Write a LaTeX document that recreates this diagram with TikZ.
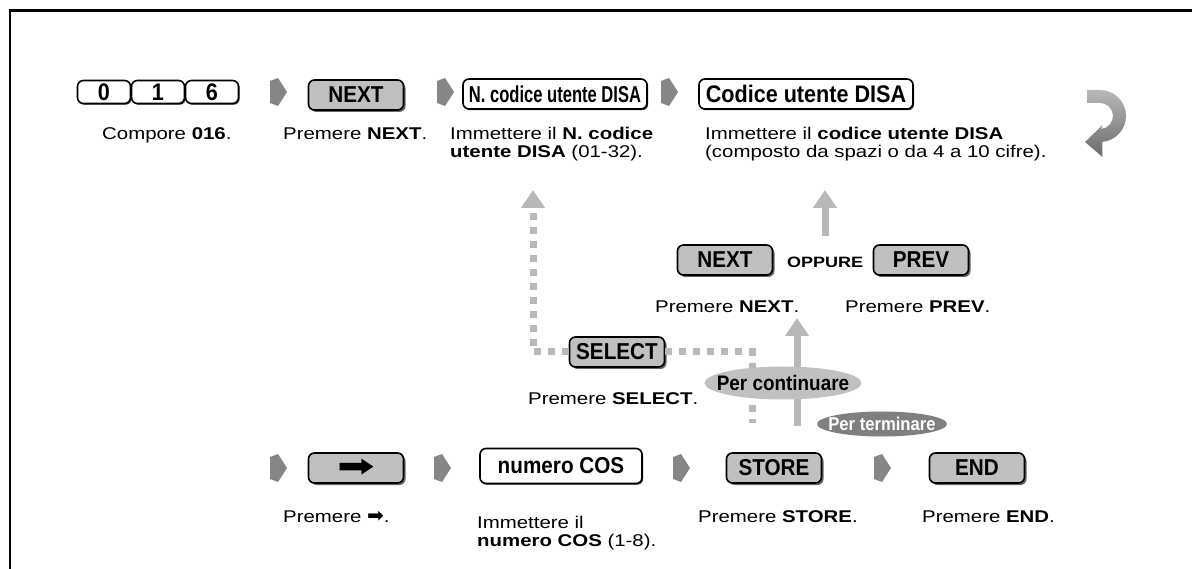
\documentclass[tikz,border=0pt]{standalone}
\usepackage{fontspec}
\setmainfont{Liberation Sans}[FakeStretch=1.2]
\newfontfamily\keyfont{Liberation Sans}[FakeStretch=0.9]
\newfontfamily\narrowkeyfont{Liberation Sans}[FakeStretch=0.72]
\newfontfamily\symfont{DejaVu Sans}
\usetikzlibrary{shapes.geometric}
\usetikzlibrary{arrows.meta}
\usetikzlibrary{shadows}

\definecolor{keygray}{HTML}{C0C0C0}
\definecolor{flowgray}{HTML}{B8B8B8}
\definecolor{stepgray}{HTML}{868686}
\definecolor{endgray}{HTML}{7F7F7F}

\tikzset{
  keybase/.style={draw,line width=1.6pt,rounded corners=6pt,inner sep=0pt,
    minimum width=95pt,minimum height=30pt,
    font=\keyfont\bfseries\fontsize{23}{23}\selectfont},
  graykey/.style={keybase,fill=keygray,
    drop shadow={shadow xshift=2pt,shadow yshift=-2pt,fill=black!60,opacity=1}},
  whitekey/.style={keybase,fill=white,
    drop shadow={shadow xshift=1.2pt,shadow yshift=-1.2pt,fill=black!80,opacity=1}},
  note/.style={anchor=base west,inner sep=0pt,align=left,
    font=\fontsize{17}{18}\selectfont},
  flow/.style={draw=flowgray,line width=7pt,-{Triangle[width=23pt,length=18pt]}},
  dashflow/.style={flow,dash pattern=on 7pt off 7pt},
  bubble/.style={ellipse,inner ysep=0pt},
  pics/nextmark/.style={code={
    \fill[stepgray] (0,-11) -- (8,-14) -- (17,0) -- (8,14) -- (0,11) -- cycle;}}
}

\begin{document}
\begin{tikzpicture}[x=1pt,y=-1pt]
\useasboundingbox (0,0) rectangle (1192,569);
\draw[line width=2.5pt] (10,569) |- (1192,10.5);

% first row
\node[whitekey,minimum width=53pt,minimum height=23pt,font=\keyfont\bfseries\fontsize{24}{24}\selectfont] (k0) at (104,92) {0};
\node[whitekey,minimum width=53pt,minimum height=23pt,font=\keyfont\bfseries\fontsize{24}{24}\selectfont] (k1) at (158,92) {1};
\node[whitekey,minimum width=53pt,minimum height=23pt,font=\keyfont\bfseries\fontsize{24}{24}\selectfont] (k6) at (212,92) {6};
\pic at (270,92) {nextmark};
\node[graykey] (next) at (356,95) {NEXT};
\pic at (437,92) {nextmark};
\node[whitekey,minimum width=184pt,font=\narrowkeyfont\bfseries\fontsize{23}{23}\selectfont] (ncode) at (555,94) {N. codice utente DISA};
\pic at (661,92) {nextmark};
\node[whitekey,minimum width=214pt,font=\keyfont\bfseries\fontsize{24}{24}\selectfont] (dcode) at (806,94) {Codice utente DISA};

\node[note] (t016) at (102,140) {Compore \textbf{016}.};
\node[note] (tnext) at (283,140) {Premere \textbf{NEXT}.};
\node[note] (tncode) at (450,158) {Immettere il \textbf{N. codice}\\\textbf{utente DISA} (01-32).};
\node[note] (tdcode) at (705,158) {Immettere il \textbf{codice utente DISA}\\(composto da spazi o da 4 a 10 cifre).};

% turn arrow
\shade[top color=black!28,bottom color=black!58]
  (1087,90) -- (1100,90) arc[start angle=-90,end angle=85,radius=26]
  -- (1102.5,157) -- (1085,142) -- (1102.5,125) -- (1101.1,128.95)
  arc[start angle=85,end angle=-90,radius=13] -- (1087,103) -- cycle;

% second row
\node[graykey] (next2) at (725,260) {NEXT};
\node[font=\bfseries\fontsize{15}{15}\selectfont] (or) at (825,262) {OPPURE};
\node[graykey] (prev) at (921,260) {PREV};
\node[note] (tnext2) at (655,313) {Premere \textbf{NEXT}.};
\node[note] (tprev) at (845,313) {Premere \textbf{PREV}.};

\node[graykey] (sel) at (617,352) {SELECT};
\node[note] (tsel) at (528,404) {Premere \textbf{SELECT}.};

% connectors
\coordinate (dtop) at (533,190);
\coordinate (dend) at (752,423);
\coordinate (ctop) at (825,190);
\coordinate (cbot) at (825,236);
\coordinate (ltop) at (797,318);
\coordinate (lbot) at (797,426);
\draw[dashflow] (sel.west) -| (dtop);
\draw[dashflow,-] (sel.east) -| (dend);
\draw[flow] (cbot) -- (ctop);
\draw[flow] (lbot) -- (ltop);

\node[bubble,fill=keygray,inner xsep=-12pt,minimum width=157pt,minimum height=33pt,font=\keyfont\bfseries\fontsize{21}{21}\selectfont] (cont) at (783,383) {Per continuare};
\node[bubble,fill=endgray,text=white,inner xsep=-10pt,minimum width=130pt,minimum height=25pt,font=\keyfont\bfseries\fontsize{18.5}{18.5}\selectfont] (term) at (882,424) {Per terminare};

% third row
\pic at (270,468) {nextmark};
\node[graykey] (arr) at (356,468) {\symfont\fontsize{30}{30}\selectfont\scalebox{1.5}[1]{➡}};
\pic at (434,468) {nextmark};
\node[whitekey,minimum width=162pt,minimum height=35pt] (cos) at (561,466) {numero COS};
\pic at (673,468) {nextmark};
\node[graykey] (store) at (774,468) {STORE};
\pic at (874,468) {nextmark};
\node[graykey] (endk) at (977,468) {END};

\node[note] (tarr) at (283,522) {Premere {\symfont\fontsize{20}{18}\selectfont ➡}.};
\node[note] (tcos) at (477,546) {Immettere il\\\textbf{numero COS} (1-8).};
\node[note] (tstore) at (698,522) {Premere \textbf{STORE}.};
\node[note] (tend) at (922,522) {Premere \textbf{END}.};
\end{tikzpicture}
\end{document}
